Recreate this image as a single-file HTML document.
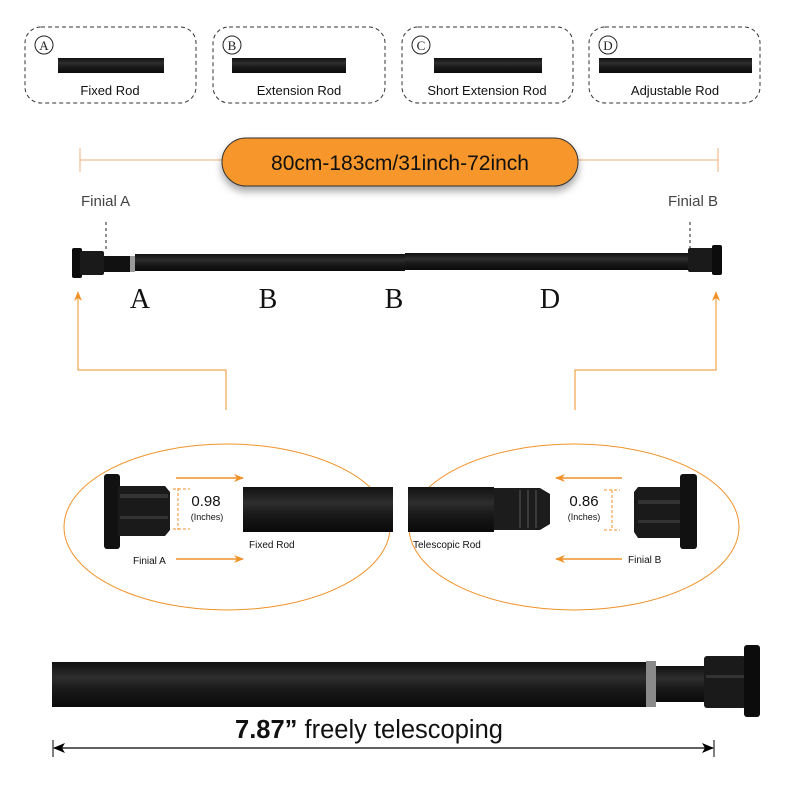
<!DOCTYPE html>
<html><head><meta charset="utf-8"><style>
html,body{margin:0;padding:0;background:#fff;}
svg{display:block;}
text{font-family:"Liberation Sans",sans-serif;}
</style></head><body>
<svg width="800" height="800" viewBox="0 0 800 800" xmlns="http://www.w3.org/2000/svg">
<defs>
<linearGradient id="rod" x1="0" y1="0" x2="0" y2="1">
<stop offset="0" stop-color="#111"/><stop offset="0.35" stop-color="#2e2e2e"/><stop offset="0.6" stop-color="#1a1a1a"/><stop offset="1" stop-color="#0a0a0a"/>
</linearGradient>
<filter id="sh" x="-10%" y="-30%" width="120%" height="180%"><feDropShadow dx="0" dy="5" stdDeviation="4" flood-color="#000" flood-opacity="0.35"/></filter>
<marker id="oa" markerWidth="10" markerHeight="8" refX="9" refY="4" orient="auto" markerUnits="userSpaceOnUse"><path d="M0,0 L10,4 L0,8 L3,4 Z" fill="#f0922a"/></marker>
<marker id="ka" markerWidth="12" markerHeight="10" refX="11" refY="5" orient="auto-start-reverse" markerUnits="userSpaceOnUse"><path d="M0,0 L12,5 L0,10 L3,5 Z" fill="#000"/></marker>
</defs>

<g fill="none" stroke="#333" stroke-dasharray="4,3" stroke-width="1">
<rect x="25" y="27" width="171" height="76" rx="16"/>
<rect x="213" y="27" width="172" height="76" rx="16"/>
<rect x="402" y="27" width="171" height="76" rx="16"/>
<rect x="589" y="27" width="171" height="76" rx="16"/>
</g>
<g fill="none" stroke="#222" stroke-width="1">
<circle cx="44" cy="45" r="9"/><circle cx="232" cy="45" r="9"/><circle cx="421" cy="45" r="9"/><circle cx="608" cy="45" r="9"/>
</g>
<g font-size="13" text-anchor="middle" fill="#222">
<text x="44" y="50" style="font-family:'Liberation Serif',serif">A</text><text x="232" y="50" style="font-family:'Liberation Serif',serif">B</text><text x="421" y="50" style="font-family:'Liberation Serif',serif">C</text><text x="608" y="50" style="font-family:'Liberation Serif',serif">D</text>
</g>
<g fill="url(#rod)">
<rect x="58" y="58" width="106" height="15"/>
<rect x="232" y="58" width="114" height="15"/>
<rect x="434" y="58" width="108" height="15"/>
<rect x="599" y="58" width="153" height="15"/>
</g>
<g font-size="13" text-anchor="middle" fill="#111">
<text x="110" y="95">Fixed Rod</text><text x="299" y="95">Extension Rod</text><text x="487" y="95">Short Extension Rod</text><text x="675" y="95">Adjustable Rod</text>
</g>

<g stroke="#f0b27a" stroke-width="1">
<line x1="80" y1="160" x2="718" y2="160"/><line x1="80" y1="148" x2="80" y2="172"/><line x1="718" y1="148" x2="718" y2="172"/>
</g>
<rect x="222" y="138" width="356" height="48" rx="24" fill="#f7962b" stroke="#333" stroke-width="1" filter="url(#sh)"/>
<text x="400" y="170" font-size="21" text-anchor="middle" fill="#111">80cm-183cm/31inch-72inch</text>

<text x="81" y="206" font-size="15" fill="#444">Finial A</text>
<text x="718" y="206" font-size="15" fill="#444" text-anchor="end">Finial B</text>
<g stroke="#222" stroke-dasharray="3,3"><line x1="106" y1="222" x2="106" y2="252"/><line x1="690" y1="222" x2="690" y2="248"/></g>

<rect x="100" y="256" width="30" height="16" fill="#111"/>
<rect x="130" y="256" width="5" height="16" fill="#9a9a9a"/>
<rect x="135" y="254" width="270" height="17" fill="url(#rod)"/>
<rect x="405" y="253" width="285" height="17" fill="url(#rod)"/>
<rect x="72" y="248" width="10" height="30" rx="2" fill="#0c0c0c"/>
<rect x="80" y="251" width="24" height="24" rx="2" fill="#1a1a1a"/>
<rect x="688" y="248" width="26" height="24" rx="2" fill="#1a1a1a"/>
<rect x="712" y="245" width="10" height="30" rx="2" fill="#0c0c0c"/>
<g font-size="28" text-anchor="middle" fill="#111">
<text x="140" y="308" style="font-family:'Liberation Serif',serif">A</text><text x="268" y="308" style="font-family:'Liberation Serif',serif">B</text><text x="394" y="308" style="font-family:'Liberation Serif',serif">B</text><text x="550" y="308" style="font-family:'Liberation Serif',serif">D</text>
</g>

<g fill="none" stroke="#f0922a" stroke-width="1">
<polyline points="226,410 226,370 78,370 78,292" marker-end="url(#oa)"/>
<polyline points="575,410 575,370 716,370 716,292" marker-end="url(#oa)"/>
<ellipse cx="227" cy="527" rx="163" ry="83"/>
<ellipse cx="574" cy="527" rx="165" ry="83"/>
</g>

<rect x="104" y="474" width="16" height="75" rx="3" fill="#111"/>
<path d="M118,486 L165,486 L170,492 L170,530 L165,536 L118,536 Z" fill="#1a1a1a"/>
<rect x="120" y="494" width="48" height="4" fill="#333"/><rect x="120" y="516" width="48" height="3" fill="#333"/>
<g stroke="#f0922a" stroke-dasharray="3,2"><line x1="178" y1="488" x2="178" y2="530"/><line x1="173" y1="489" x2="190" y2="489"/><line x1="173" y1="529" x2="190" y2="529"/></g>
<text x="206" y="506" font-size="15" text-anchor="middle" fill="#111">0.98</text>
<text x="207" y="520" font-size="9" text-anchor="middle" fill="#111">(Inches)</text>
<line x1="176" y1="478" x2="243" y2="478" stroke="#f0922a" stroke-width="1.5" marker-end="url(#oa)"/>
<line x1="176" y1="559" x2="243" y2="559" stroke="#f0922a" stroke-width="1.5" marker-end="url(#oa)"/>
<text x="133" y="564" font-size="10" fill="#111">Finial A</text>
<rect x="243" y="487" width="150" height="45" fill="url(#rod)"/>
<text x="249" y="548" font-size="10" fill="#111">Fixed Rod</text>

<rect x="408" y="487" width="86" height="45" fill="url(#rod)"/>
<path d="M494,488 L540,488 L550,494 L550,524 L540,530 L494,530 Z" fill="#1c1c1c"/>
<g stroke="#444" stroke-width="1.5"><line x1="520" y1="490" x2="520" y2="528"/><line x1="528" y1="490" x2="528" y2="528"/><line x1="536" y1="490" x2="536" y2="528"/></g>
<text x="413" y="548" font-size="10" fill="#111">Telescopic Rod</text>
<line x1="622" y1="478" x2="556" y2="478" stroke="#f0922a" stroke-width="1.5" marker-end="url(#oa)"/>
<line x1="622" y1="559" x2="556" y2="559" stroke="#f0922a" stroke-width="1.5" marker-end="url(#oa)"/>
<text x="628" y="563" font-size="10" fill="#111">Finial B</text>
<g stroke="#f0922a" stroke-dasharray="3,2"><line x1="612" y1="490" x2="612" y2="530"/><line x1="604" y1="490" x2="620" y2="490"/><line x1="604" y1="530" x2="620" y2="530"/></g>
<text x="584" y="506" font-size="15" text-anchor="middle" fill="#111">0.86</text>
<text x="584" y="520" font-size="9" text-anchor="middle" fill="#111">(Inches)</text>
<path d="M638,487 L680,487 L680,538 L638,538 L634,532 L634,492 Z" fill="#1a1a1a"/>
<rect x="638" y="500" width="42" height="4" fill="#333"/><rect x="638" y="520" width="42" height="3" fill="#333"/>
<rect x="680" y="474" width="17" height="75" rx="3" fill="#111"/>

<rect x="52" y="662" width="594" height="45" fill="url(#rod)"/>
<rect x="646" y="661" width="10" height="46" fill="#8a8a8a"/>
<rect x="656" y="666" width="52" height="36" fill="url(#rod)"/>
<rect x="704" y="656" width="42" height="52" rx="3" fill="#1a1a1a"/>
<rect x="706" y="675" width="40" height="3" fill="#333"/>
<rect x="744" y="645" width="16" height="72" rx="3" fill="#0c0c0c"/>
<text x="369" y="738" font-size="25.5" text-anchor="middle" fill="#111"><tspan font-weight="bold">7.87”</tspan>  freely telescoping</text>
<line x1="54" y1="748" x2="713" y2="748" stroke="#000" stroke-width="1.2" marker-start="url(#ka)" marker-end="url(#ka)"/>
<line x1="53" y1="740" x2="53" y2="757" stroke="#000"/><line x1="714" y1="740" x2="714" y2="757" stroke="#000"/>
</svg>
</body></html>
